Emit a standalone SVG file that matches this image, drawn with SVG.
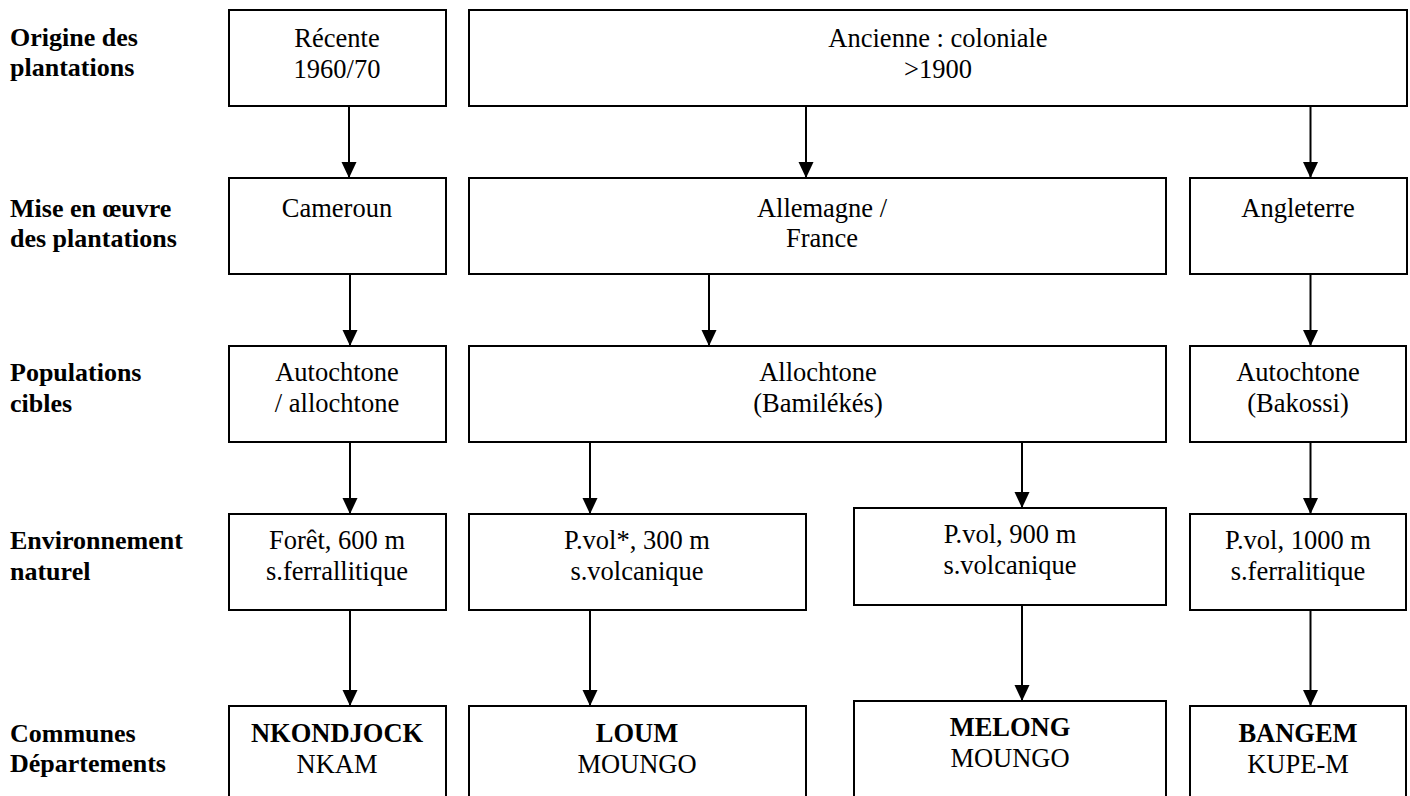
<svg xmlns="http://www.w3.org/2000/svg" width="1410" height="796" viewBox="0 0 1410 796">
<style>
.box{fill:#fff;stroke:#000;stroke-width:2}
.t{font-family:"Liberation Serif","Times New Roman",serif;font-size:26.5px;fill:#000;text-anchor:middle}
.b{font-weight:bold}
.lab{font-family:"Liberation Serif","Times New Roman",serif;font-size:26px;font-weight:bold;fill:#000}
.c{stroke:#000;stroke-width:2;fill:none;marker-end:url(#ah)}
</style>
<defs>
<marker id="ah" markerUnits="userSpaceOnUse" markerWidth="16" markerHeight="16" refX="16" refY="7.5" orient="auto">
<path d="M0,0 L16,7.5 L0,15 z" fill="#000"/>
</marker>
</defs>
<rect width="1410" height="796" fill="#fff"/>
<g id="labels">
<text class="lab" x="10" y="46">Origine des</text>
<text class="lab" x="10" y="76">plantations</text>
<text class="lab" x="10" y="217">Mise en œuvre</text>
<text class="lab" x="10" y="247">des plantations</text>
<text class="lab" x="10" y="381">Populations</text>
<text class="lab" x="10" y="412">cibles</text>
<text class="lab" x="10" y="549">Environnement</text>
<text class="lab" x="10" y="580">naturel</text>
<text class="lab" x="10" y="742">Communes</text>
<text class="lab" x="10" y="772">Départements</text>
</g>
<g id="connectors">
<line class="c" x1="349" y1="106" x2="349" y2="178"/>
<line class="c" x1="806" y1="106" x2="806" y2="178"/>
<line class="c" x1="1310.5" y1="106" x2="1310.5" y2="178"/>
<line class="c" x1="350" y1="274" x2="350" y2="346"/>
<line class="c" x1="709" y1="274" x2="709" y2="346"/>
<line class="c" x1="1310.5" y1="274" x2="1310.5" y2="346"/>
<line class="c" x1="350" y1="442" x2="350" y2="514"/>
<line class="c" x1="590" y1="442" x2="590" y2="514"/>
<line class="c" x1="1022" y1="437" x2="1022" y2="508"/>
<line class="c" x1="1310.5" y1="442" x2="1310.5" y2="514"/>
<line class="c" x1="350" y1="610" x2="350" y2="706"/>
<line class="c" x1="590" y1="610" x2="590" y2="706"/>
<line class="c" x1="1022" y1="605" x2="1022" y2="701"/>
<line class="c" x1="1310.5" y1="610" x2="1310.5" y2="706"/>
</g>
<g id="n_recente">
<rect class="box" x="229" y="10" width="217" height="96"/>
<text class="t" x="337" y="47">Récente</text>
<text class="t" x="337" y="78">1960/70</text>
</g>
<g id="n_ancienne">
<rect class="box" x="469" y="10" width="938" height="96"/>
<text class="t" x="938" y="47">Ancienne : coloniale</text>
<text class="t" x="938" y="78">&gt;1900</text>
</g>
<g id="n_cameroun">
<rect class="box" x="229" y="178" width="217" height="96"/>
<text class="t" x="337" y="217">Cameroun</text>
</g>
<g id="n_allemagne">
<rect class="box" x="469" y="178" width="697" height="96"/>
<text class="t" x="822" y="217">Allemagne /</text>
<text class="t" x="822" y="247">France</text>
</g>
<g id="n_angleterre">
<rect class="box" x="1190" y="178" width="217" height="96"/>
<text class="t" x="1298" y="217">Angleterre</text>
</g>
<g id="n_autochtone">
<rect class="box" x="229" y="346" width="217" height="96"/>
<text class="t" x="337" y="381">Autochtone</text>
<text class="t" x="337" y="412">/ allochtone</text>
</g>
<g id="n_allochtone">
<rect class="box" x="469" y="346" width="697" height="96"/>
<text class="t" x="818" y="381">Allochtone</text>
<text class="t" x="818" y="412">(Bamilékés)</text>
</g>
<g id="n_bakossi">
<rect class="box" x="1190" y="346" width="216" height="96"/>
<text class="t" x="1298" y="381">Autochtone</text>
<text class="t" x="1298" y="412">(Bakossi)</text>
</g>
<g id="n_foret">
<rect class="box" x="229" y="514" width="217" height="96"/>
<text class="t" x="337" y="549">Forêt, 600 m</text>
<text class="t" x="337" y="580">s.ferrallitique</text>
</g>
<g id="n_pvol300">
<rect class="box" x="469" y="514" width="337" height="96"/>
<text class="t" x="637" y="549">P.vol*, 300 m</text>
<text class="t" x="637" y="580">s.volcanique</text>
</g>
<g id="n_pvol900">
<rect class="box" x="854" y="508" width="312" height="97"/>
<text class="t" x="1010" y="543">P.vol, 900 m</text>
<text class="t" x="1010" y="574">s.volcanique</text>
</g>
<g id="n_pvol1000">
<rect class="box" x="1190" y="514" width="216" height="96"/>
<text class="t" x="1298" y="549">P.vol, 1000 m</text>
<text class="t" x="1298" y="580">s.ferralitique</text>
</g>
<g id="n_nkondjock">
<rect class="box" x="229" y="706" width="217" height="100"/>
<text class="t b" x="337" y="742">NKONDJOCK</text>
<text class="t" x="337" y="773">NKAM</text>
</g>
<g id="n_loum">
<rect class="box" x="469" y="706" width="337" height="100"/>
<text class="t b" x="637" y="742">LOUM</text>
<text class="t" x="637" y="773">MOUNGO</text>
</g>
<g id="n_melong">
<rect class="box" x="854" y="701" width="312" height="105"/>
<text class="t b" x="1010" y="736">MELONG</text>
<text class="t" x="1010" y="767">MOUNGO</text>
</g>
<g id="n_bangem">
<rect class="box" x="1190" y="706" width="216" height="100"/>
<text class="t b" x="1298" y="742">BANGEM</text>
<text class="t" x="1298" y="773">KUPE-M</text>
</g>
</svg>
